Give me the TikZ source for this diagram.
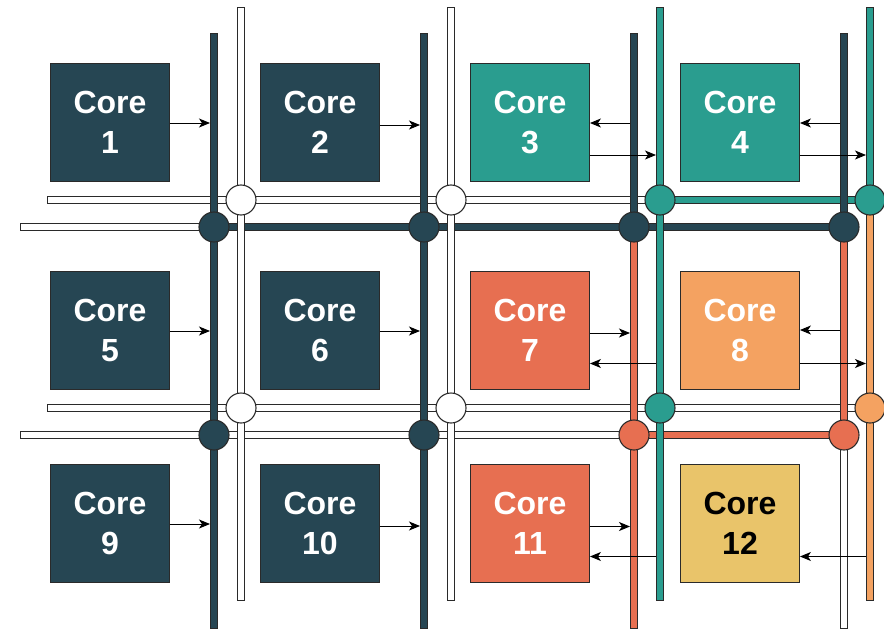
\documentclass[tikz,border=0pt]{standalone}
\usepackage{fontspec}
\setmainfont{Liberation Sans}
\usetikzlibrary{arrows.meta,backgrounds}
\definecolor{cdark}{HTML}{264653}
\definecolor{cteal}{HTML}{2A9D8F}
\definecolor{ccoral}{HTML}{E76F51}
\definecolor{corange}{HTML}{F4A261}
\definecolor{cyellow}{HTML}{E9C46A}
\definecolor{cline}{HTML}{2A2A2A}
\begin{document}
\begin{tikzpicture}[x=1pt,y=-1pt,
  core/.style={draw=cline,line width=0.9pt,minimum width=119pt,minimum height=118pt,inner sep=0pt,align=center,text=white,font=\bfseries\fontsize{32}{40}\selectfont},
  hub/.style={circle,draw=cline,line width=1.1pt,minimum size=30pt,inner sep=0pt},
  bus/.style={double=#1,double distance=5.8pt,line width=1.1pt,draw=cline,line cap=rect},
  arr/.style={draw=black,line width=1pt,-{Stealth[length=11pt,width=9pt,inset=3pt]}}]
\useasboundingbox (0,0) rectangle (884,629);

% cores
\node[core,fill=cdark]   (c1)  at (110,122.5) {Core\\1};
\node[core,fill=cdark]   (c2)  at (320,122.5) {Core\\2};
\node[core,fill=cteal]   (c3)  at (530,122.5) {Core\\3};
\node[core,fill=cteal]   (c4)  at (740,122.5) {Core\\4};
\node[core,fill=cdark]   (c5)  at (110,330.5) {Core\\5};
\node[core,fill=cdark]   (c6)  at (320,330.5) {Core\\6};
\node[core,fill=ccoral]  (c7)  at (530,330.5) {Core\\7};
\node[core,fill=corange] (c8)  at (740,330.5) {Core\\8};
\node[core,fill=cdark]   (c9)  at (110,523.5) {Core\\9};
\node[core,fill=cdark]   (c10) at (320,523.5) {Core\\10};
\node[core,fill=ccoral]  (c11) at (530,523.5) {Core\\11};
\node[core,fill=cyellow,text=black] (c12) at (740,523.5) {Core\\12};

% hubs
\node[hub,fill=cdark]   (d1a) at (214,227) {};
\node[hub,fill=cdark]   (d2a) at (424,227) {};
\node[hub,fill=cdark]   (d3a) at (634,227) {};
\node[hub,fill=cdark]   (d4a) at (844,227) {};
\node[hub,fill=white]   (w1a) at (241,200) {};
\node[hub,fill=white]   (w2a) at (451,200) {};
\node[hub,fill=cteal]   (t3a) at (660,200) {};
\node[hub,fill=cteal]   (t4a) at (870,200) {};
\node[hub,fill=white]   (w1b) at (241,408) {};
\node[hub,fill=white]   (w2b) at (451,408) {};
\node[hub,fill=cteal]   (t3b) at (660,408) {};
\node[hub,fill=corange] (o4b) at (870,408) {};
\node[hub,fill=cdark]   (d1b) at (214,435) {};
\node[hub,fill=cdark]   (d2b) at (424,435) {};
\node[hub,fill=ccoral]  (c3b) at (634,435) {};
\node[hub,fill=ccoral]  (c4b) at (844,435) {};

% free ends
\coordinate (hu1) at (51,200);
\coordinate (hl1) at (24,227);
\coordinate (hu2) at (51,408);
\coordinate (hl2) at (24,435);
\coordinate (v1t) at (214,37);  \coordinate (v1b) at (214,625);
\coordinate (v2t) at (241,11);  \coordinate (v2b) at (241,597);
\coordinate (v3t) at (424,37);  \coordinate (v3b) at (424,625);
\coordinate (v4t) at (451,11);  \coordinate (v4b) at (451,597);
\coordinate (v5t) at (634,37);  \coordinate (v5b) at (634,625);
\coordinate (v6t) at (660,11);  \coordinate (v6b) at (660,597);
\coordinate (v7t) at (844,37);  \coordinate (v7b) at (844,625);
\coordinate (v8t) at (870,11);  \coordinate (v8b) at (870,597);

\begin{pgfonlayer}{background}
% horizontal buses
\draw[bus=white] (hu1) -- (t3a);
\draw[bus=cteal] (t3a) -- (t4a);
\draw[bus=white] (hl1) -- (d1a);
\draw[bus=cdark] (d1a) -- (d4a);
\draw[bus=white] (hu2) -- (o4b);
\draw[bus=white] (hl2) -- (c3b);
\draw[bus=ccoral] (c3b) -- (c4b);
% vertical buses
\draw[bus=cdark] (v1t) -- (v1b);
\draw[bus=white] (v2t) -- (v2b);
\draw[bus=cdark] (v3t) -- (v3b);
\draw[bus=white] (v4t) -- (v4b);
\draw[bus=cdark] (v5t) -- (d3a);
\draw[bus=ccoral] (d3a) -- (v5b);
\draw[bus=cteal] (v6t) -- (v6b);
\draw[bus=cdark] (v7t) -- (d4a);
\draw[bus=ccoral] (d4a) -- (c4b);
\draw[bus=white] (c4b) -- (v7b);
\draw[bus=cteal] (v8t) -- (t4a);
\draw[bus=corange] (t4a) -- (v8b);
\end{pgfonlayer}

% arrows
\draw[arr] (c1.east |- 0,123) -- (210,123);
\draw[arr] (c2.east |- 0,125) -- (420,125);
\draw[arr] (630,123) -- (c3.east |- 0,123);
\draw[arr] (c3.east |- 0,155) -- (656,155);
\draw[arr] (840,123) -- (c4.east |- 0,123);
\draw[arr] (c4.east |- 0,155) -- (866,155);
\draw[arr] (c5.east |- 0,331) -- (210,331);
\draw[arr] (c6.east |- 0,331) -- (420,331);
\draw[arr] (c7.east |- 0,333) -- (630,333);
\draw[arr] (656,363.5) -- (c7.east |- 0,363.5);
\draw[arr] (840,330) -- (c8.east |- 0,330);
\draw[arr] (c8.east |- 0,363.5) -- (866,363.5);
\draw[arr] (c9.east |- 0,524) -- (210,524);
\draw[arr] (c10.east |- 0,526) -- (420,526);
\draw[arr] (c11.east |- 0,526.5) -- (630,526.5);
\draw[arr] (656,556.5) -- (c11.east |- 0,556.5);
\draw[arr] (866,556.5) -- (c12.east |- 0,556.5);
\end{tikzpicture}
\end{document}
